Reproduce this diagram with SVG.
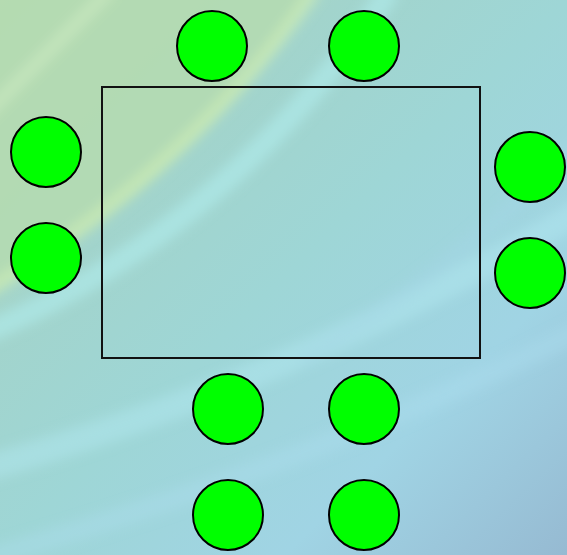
<svg xmlns="http://www.w3.org/2000/svg" width="567" height="555" viewBox="0 0 567 555">
  <defs>
    <linearGradient id="bg" x1="0" y1="0" x2="1" y2="1">
      <stop offset="0" stop-color="#b8ddb4"/>
      <stop offset="0.3" stop-color="#a2d4cc"/>
      <stop offset="0.5" stop-color="#9ed6d6"/>
      <stop offset="0.75" stop-color="#a0d4e4"/>
      <stop offset="1" stop-color="#96bad2"/>
    </linearGradient>
    <filter id="blur" x="-20%" y="-20%" width="140%" height="140%">
      <feGaussianBlur stdDeviation="6"/>
    </filter>
    <style>
      .seat { fill: #00ff00; stroke: #000; stroke-width: 2; }
      .table { fill: none; stroke: #111; stroke-width: 2; }
    </style>
  </defs>
  <g id="background">
    <rect x="0" y="0" width="567" height="555" fill="url(#bg)"/>
    <g filter="url(#blur)">
      <path d="M-20,-20 L320,-20 Q200,180 -20,300 Z" fill="#b4dab0" opacity="0.85"/>
      <g fill="none">
        <path d="M-20,295 Q190,170 315,-10" stroke="#d0f0b8" stroke-width="14" opacity="0.6"/>
        <path d="M-20,335 Q230,230 390,-10" stroke="#b0ecec" stroke-width="22" opacity="0.6"/>
        <path d="M-20,470 Q300,380 600,200" stroke="#b4e8f2" stroke-width="26" opacity="0.45"/>
        <path d="M-20,560 Q330,460 600,320" stroke="#b0e0f0" stroke-width="20" opacity="0.35"/>
        <path d="M-20,120 Q60,40 110,-10" stroke="#d8f2c8" stroke-width="14" opacity="0.4"/>
        <path d="M300,360 Q450,280 600,120" stroke="#a4d8e6" stroke-width="16" opacity="0.4"/>
      </g>
    </g>
  </g>
  <g id="table">
    <rect class="table" x="102" y="87" width="378" height="271"/>
  </g>
  <g id="seat-top-1"><circle class="seat" cx="212" cy="46" r="35"/></g>
  <g id="seat-top-2"><circle class="seat" cx="364" cy="46" r="35"/></g>
  <g id="seat-left-1"><circle class="seat" cx="46" cy="152" r="35"/></g>
  <g id="seat-left-2"><circle class="seat" cx="46" cy="258" r="35"/></g>
  <g id="seat-right-1"><circle class="seat" cx="530" cy="167" r="35"/></g>
  <g id="seat-right-2"><circle class="seat" cx="530" cy="273" r="35"/></g>
  <g id="seat-bottom-1"><circle class="seat" cx="228" cy="409" r="35"/></g>
  <g id="seat-bottom-2"><circle class="seat" cx="364" cy="409" r="35"/></g>
  <g id="seat-bottom-3"><circle class="seat" cx="228" cy="515" r="35"/></g>
  <g id="seat-bottom-4"><circle class="seat" cx="364" cy="515" r="35"/></g>
  <g id="connectors"/>
</svg>
